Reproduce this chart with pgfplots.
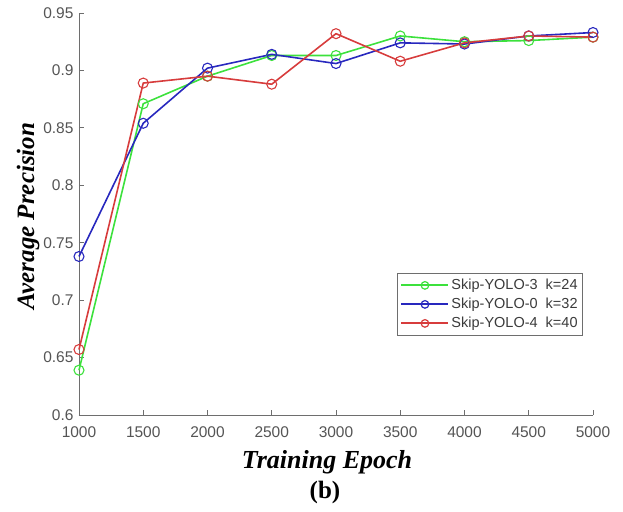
\documentclass[border=0pt]{standalone}
\usepackage{pgfplots}
\pgfplotsset{compat=1.18}
\usepackage{fontspec}
\setmainfont{Liberation Serif}
\newfontfamily\arial{Liberation Sans}
\definecolor{mgreen}{RGB}{60,225,60}
\definecolor{mblue}{RGB}{40,40,190}
\definecolor{mred}{RGB}{215,60,60}
\definecolor{axgray}{RGB}{110,110,110}
\definecolor{tickgray}{RGB}{85,85,85}
\begin{document}
\begin{tikzpicture}
\useasboundingbox (-79pt,-96pt) rectangle (544pt,415pt);
\begin{axis}[
  at={(0,0)}, anchor=south west,
  scale only axis, width=514pt, height=402pt,
  xmin=1000, xmax=5000, ymin=0.6, ymax=0.95,
  axis x line*=bottom, axis y line*=left,
  axis line style={axgray, line width=0.8pt, -},
  xtick={1000,1500,...,5000},
  ytick={0.6,0.65,0.7,0.75,0.8,0.85,0.9,0.95},
  yticklabels={0.6,0.65,0.7,0.75,0.8,0.85,0.9,0.95},
  xticklabels={1000,1500,2000,2500,3000,3500,4000,4500,5000},
  tick style={axgray, line width=0.8pt},
  tick align=inside, major tick length=5pt,
  ticklabel style={font=\arial\fontsize{15.5}{17}\selectfont, text=tickgray},
  xticklabel style={yshift=-8pt},
  yticklabel style={xshift=-2pt},
  /pgf/number format/assume math mode=true,
  scaled x ticks=false,
  clip=false,
  legend style={at={(0.619,0.353)}, anchor=north west, draw=axgray, line width=0.6pt,
    font=\arial\fontsize{14.5}{16}\selectfont, text=tickgray!70!black,
    row sep=3pt, inner xsep=3pt, inner ysep=4pt, cells={anchor=west}},
  legend cell align=left,
  legend image code/.code={
    \draw[#1, mark=none, line width=2pt] (0pt,0pt) -- (47pt,0pt);
    \draw[#1, only marks, mark size=3.8pt, mark options={line width=1.2pt}] plot coordinates {(23.5pt,0pt)};
  },
  every axis plot/.append style={line width=1.6pt, mark=o, mark size=5pt, mark options={line width=1.1pt}},
]
\addplot[mgreen] coordinates {(1000,0.639) (1500,0.871) (2000,0.895) (2500,0.913) (3000,0.913) (3500,0.930) (4000,0.925) (4500,0.926) (5000,0.929)};
\addlegendentry{Skip-YOLO-3\ \ k=24}
\addplot[mblue] coordinates {(1000,0.738) (1500,0.854) (2000,0.902) (2500,0.914) (3000,0.906) (3500,0.924) (4000,0.923) (4500,0.930) (5000,0.933)};
\addlegendentry{Skip-YOLO-0\ \ k=32}
\addplot[mred] coordinates {(1000,0.657) (1500,0.889) (2000,0.895) (2500,0.888) (3000,0.932) (3500,0.908) (4000,0.924) (4500,0.930) (5000,0.929)};
\addlegendentry{Skip-YOLO-4\ \ k=40}
\end{axis}
\node at (248pt,-47pt) {\fontsize{26}{30}\selectfont\bfseries\itshape Training Epoch};
\node[rotate=90] at (-51pt,199pt) {\fontsize{25}{30}\selectfont\bfseries\itshape Average Precision};
\node at (246pt,-77pt) {\fontsize{25}{30}\selectfont\bfseries (b)};
\end{tikzpicture}
\end{document}
